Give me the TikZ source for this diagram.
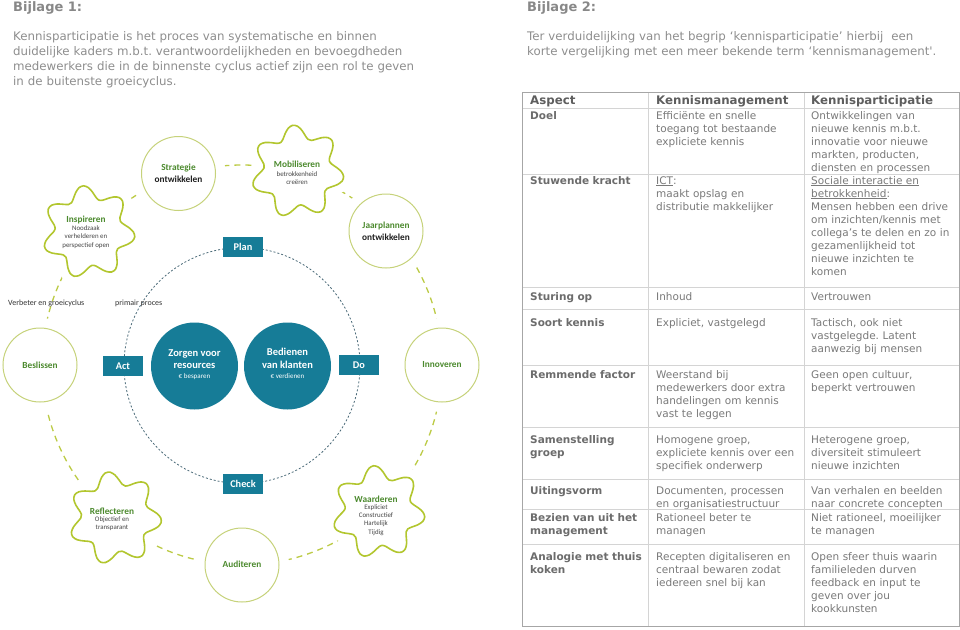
\documentclass[tikz,border=0pt]{standalone}
\usepackage{fontspec}
\setmainfont{DejaVu Sans}[Ligatures=TeXOff]
\newfontfamily\diagfont{Carlito}
\usetikzlibrary{calc}
\frenchspacing
\definecolor{titlegrey}{HTML}{888888}
\definecolor{bodygrey}{HTML}{8E8E8E}
\definecolor{headgrey}{HTML}{5E5E5E}
\definecolor{labgrey}{HTML}{6C6C6C}
\definecolor{cellgrey}{HTML}{7A7A7A}
\definecolor{rulegrey}{HTML}{D4D4D4}
\definecolor{framegrey}{HTML}{A6A6A6}
\definecolor{petrol}{HTML}{167C97}
\definecolor{slate}{HTML}{4B6B79}
\definecolor{ringgreen}{HTML}{BCCB45}
\definecolor{circgreen}{HTML}{C6D27A}
\definecolor{stargreen}{HTML}{B2C62E}
\definecolor{leafgreen}{HTML}{4C8A2E}
\definecolor{inkgrey}{HTML}{454545}
\tikzset{titletxt/.style={anchor=base west, inner sep=0pt, text=titlegrey, font=\bfseries\fontsize{13}{15}\selectfont}}
\tikzset{introtxt/.style={anchor=base west, inner sep=0pt, align=left, text width=430pt, text=bodygrey, font=\fontsize{11.8}{15}\selectfont}}
\tikzset{headtxt/.style={anchor=base west, inner sep=0pt, text=headgrey, font=\bfseries\fontsize{11.8}{13}\selectfont}}
\tikzset{rowlab/.style={anchor=base west, inner sep=0pt, align=left, text width=115pt, text=labgrey, font=\bfseries\fontsize{10.5}{13}\selectfont}}
\tikzset{celltxt/.style={anchor=base west, inner sep=0pt, align=left, text width=146pt, text=cellgrey, font=\fontsize{10.5}{13}\selectfont}}
\tikzset{tablerule/.style={draw=rulegrey, line width=0.9pt}}
\tikzset{ring/.style={draw=ringgreen, line width=1.3pt, dash pattern=on 6pt off 5pt}}
\tikzset{innerring/.style={draw=slate, line width=0.8pt, dash pattern=on 2pt off 2pt}}
\tikzset{phase/.style={fill=petrol, text=white, minimum width=40pt, minimum height=20pt, inner sep=0pt, font=\diagfont\bfseries\fontsize{10.3}{12}\selectfont}}
\tikzset{core/.style={circle, fill=petrol, minimum size=87pt, inner sep=0pt}}
\tikzset{coretitle/.style={align=center, inner sep=0pt, text=white, font=\diagfont\bfseries\fontsize{10.5}{12.5}\selectfont}}
\tikzset{corenote/.style={inner sep=0pt, text=white, font=\diagfont\fontsize{7}{8}\selectfont}}
\tikzset{stepcirc/.style={circle, draw=circgreen, line width=1pt, fill=white, minimum size=74pt, inner sep=0pt, preaction={draw=white, line width=20pt}}}
\tikzset{starline/.style={draw=stargreen, line width=1.6pt, fill=white, preaction={draw=white, line width=18pt}}}
\tikzset{steptitle/.style={align=center, inner sep=0pt, text=black!88, font=\diagfont\bfseries\fontsize{9.3}{12}\selectfont}}
\tikzset{stepnote/.style={align=center, inner sep=0pt, text=inkgrey, font=\diagfont\fontsize{6.9}{8.2}\selectfont}}
\tikzset{cyclelab/.style={anchor=base west, inner sep=0pt, text=black!80, font=\diagfont\fontsize{8}{9}\selectfont}}

% wavy seven-point star: name, x, y, angle of top point
\newcommand{\wavestar}[4]{%
  \draw[starline] plot[smooth cycle, samples at={0,6,...,354}, variable=\ang]
    ({#2+(40+6.5*cos(7*(\ang-#4)))*cos(\ang)}, {#3+(40+6.5*cos(7*(\ang-#4)))*sin(\ang)});
  \coordinate (#1) at (#2,#3);
}

\begin{document}
\begin{tikzpicture}[x=1pt, y=-1pt]
\useasboundingbox[fill=white] (0,0) rectangle (960,629);

\node[titletxt] (bijlage1) at (13,12) {Bijlage 1:};
\node[introtxt, text width=480pt] (intro1) at (13,40.7) {Kennisparticipatie is het proces van systematische en binnen\\duidelijke kaders m.b.t. verantwoordelijkheden en bevoegdheden\\medewerkers die in de binnenste cyclus actief zijn een rol te geven\\in de buitenste groeicyclus.};
\node[titletxt] (bijlage2) at (527,12) {Bijlage 2:};
\node[introtxt] (intro2) at (527,40.7) {Ter verduidelijking van het begrip ‘kennisparticipatie’ hierbij~ een\\korte vergelijking met een meer bekende term ‘kennismanagement'.};

% cycles
\draw[ring] (242,365) circle[radius=200];
\draw[innerring] (242,365.5) circle[radius=118];

\node[core] (zorgen) at (194.5,366) {};
\node[coretitle] (zorgenT) at (194.5,359) {Zorgen voor\\resources};
\node[corenote] (zorgenN) at (194.5,377) {€ besparen};
\node[core] (bedienen) at (287.5,366) {};
\node[coretitle] (bedienenT) at (287.5,358.5) {Bedienen\\van klanten};
\node[corenote] (bedienenN) at (287.5,376) {€ verdienen};

\node[phase] (plan) at (243,247) {Plan};
\node[phase] (act) at (123,366) {Act};
\node[phase] (do) at (359,365) {Do};
\node[phase] (check) at (243,484) {Check};

\node[stepcirc] (strategie) at (178.5,173.5) {};
\node[steptitle] (strategieT) at (178.5,173) {\textcolor{leafgreen}{Strategie}\\ontwikkelen};
\node[stepcirc] (jaarplannen) at (386,231) {};
\node[steptitle] (jaarplannenT) at (386,231.5) {\textcolor{leafgreen}{Jaarplannen}\\ontwikkelen};
\node[stepcirc] (beslissen) at (40,365) {};
\node[steptitle, text=leafgreen] (beslissenT) at (40,365) {Beslissen};
\node[stepcirc] (innoveren) at (442,365) {};
\node[steptitle, text=leafgreen] (innoverenT) at (442,365) {Innoveren};
\node[stepcirc] (auditeren) at (242,565) {};
\node[steptitle, text=leafgreen] (auditerenT) at (242,564) {Auditeren};

\wavestar{mobiliseren}{297.5}{171.5}{-95}
\node[steptitle, text=leafgreen] (mobiliserenT) at (297,164) {Mobiliseren};
\node[stepnote] (mobiliserenN) at (297,178) {betrokkenheid\\creëren};
\wavestar{inspireren}{88.5}{232}{-97}
\node[steptitle, text=leafgreen] (inspirerenT) at (86,220) {Inspireren};
\node[stepnote] (inspirerenN) at (86,237) {Noodzaak\\verhelderen en\\perspectief open};
\wavestar{reflecteren}{115}{518}{-99}
\node[steptitle, text=leafgreen] (reflecterenT) at (112,511) {Reflecteren};
\node[stepnote] (reflecterenN) at (112,524) {Objectief en\\transparant};
\wavestar{waarderen}{378.5}{512}{-96}
\node[steptitle, text=leafgreen] (waarderenT) at (376,499) {Waarderen};
\node[stepnote] (waarderenN) at (376,520) {Expliciet\\Constructief\\Hartelijk\\Tijdig};

\node[cyclelab] (groeicyclus) at (8,305) {Verbeter en groeicyclus};
\node[cyclelab] (primair) at (115,305) {primair proces};

% table
\foreach \y in {108,174,287,309,365,427,479,509,544}
  \draw[tablerule] (522,\y) -- (959,\y);
\foreach \x in {648,804}
  \draw[tablerule] (\x,92) -- (\x,626);
\draw[draw=framegrey, line width=0.9pt] (522,92) rectangle (959,626);

\node[headtxt] (hAspect) at (530,104) {Aspect};
\node[headtxt] (hKm) at (656,104) {Kennismanagement};
\node[headtxt] (hKp) at (811,104) {Kennisparticipatie};

\node[rowlab] (lDoel) at (530,119) {Doel};
\node[celltxt] (mDoel) at (656,119) {Efficiënte en snelle\\toegang tot bestaande\\expliciete kennis};
\node[celltxt] (pDoel) at (811,119) {Ontwikkelingen van\\nieuwe kennis m.b.t.\\innovatie voor nieuwe\\markten, producten,\\diensten en processen};

\node[rowlab] (lKracht) at (530,184) {Stuwende kracht};
\node[celltxt] (mKracht) at (656,184) {\underline{ICT}:\\maakt opslag en\\distributie makkelijker};
\node[celltxt] (pKracht) at (811,184) {\underline{Sociale interactie en}\\\underline{betrokkenheid}:\\Mensen hebben een drive\\om inzichten/kennis met\\collega’s te delen en zo in\\gezamenlijkheid tot\\nieuwe inzichten te\\komen};

\node[rowlab] (lSturing) at (530,300) {Sturing op};
\node[celltxt] (mSturing) at (656,300) {Inhoud};
\node[celltxt] (pSturing) at (811,300) {Vertrouwen};

\node[rowlab] (lSoort) at (530,326) {Soort kennis};
\node[celltxt] (mSoort) at (656,326) {Expliciet, vastgelegd};
\node[celltxt] (pSoort) at (811,326) {Tactisch, ook niet\\vastgelegde. Latent\\aanwezig bij mensen};

\node[rowlab] (lRem) at (530,378) {Remmende factor};
\node[celltxt] (mRem) at (656,378) {Weerstand bij\\medewerkers door extra\\handelingen om kennis\\vast te leggen};
\node[celltxt] (pRem) at (811,378) {Geen open cultuur,\\beperkt vertrouwen};

\node[rowlab] (lGroep) at (530,443) {Samenstelling\\groep};
\node[celltxt] (mGroep) at (656,443) {Homogene groep,\\expliciete kennis over een\\specifiek onderwerp};
\node[celltxt] (pGroep) at (811,443) {Heterogene groep,\\diversiteit stimuleert\\nieuwe inzichten};

\node[rowlab] (lVorm) at (530,494) {Uitingsvorm};
\node[celltxt] (mVorm) at (656,494) {Documenten, processen\\en organisatiestructuur};
\node[celltxt] (pVorm) at (811,494) {Van verhalen en beelden\\naar concrete concepten};

\node[rowlab] (lBezien) at (530,521) {Bezien van uit het\\management};
\node[celltxt] (mBezien) at (656,521) {Rationeel beter te\\managen};
\node[celltxt] (pBezien) at (811,521) {Niet rationeel, moeilijker\\te managen};

\node[rowlab] (lKoken) at (530,560) {Analogie met thuis\\koken};
\node[celltxt] (mKoken) at (656,560) {Recepten digitaliseren en\\centraal bewaren zodat\\iedereen snel bij kan};
\node[celltxt] (pKoken) at (811,560) {Open sfeer thuis waarin\\familieleden durven\\feedback en input te\\geven over jou\\kookkunsten};

\end{tikzpicture}
\end{document}
